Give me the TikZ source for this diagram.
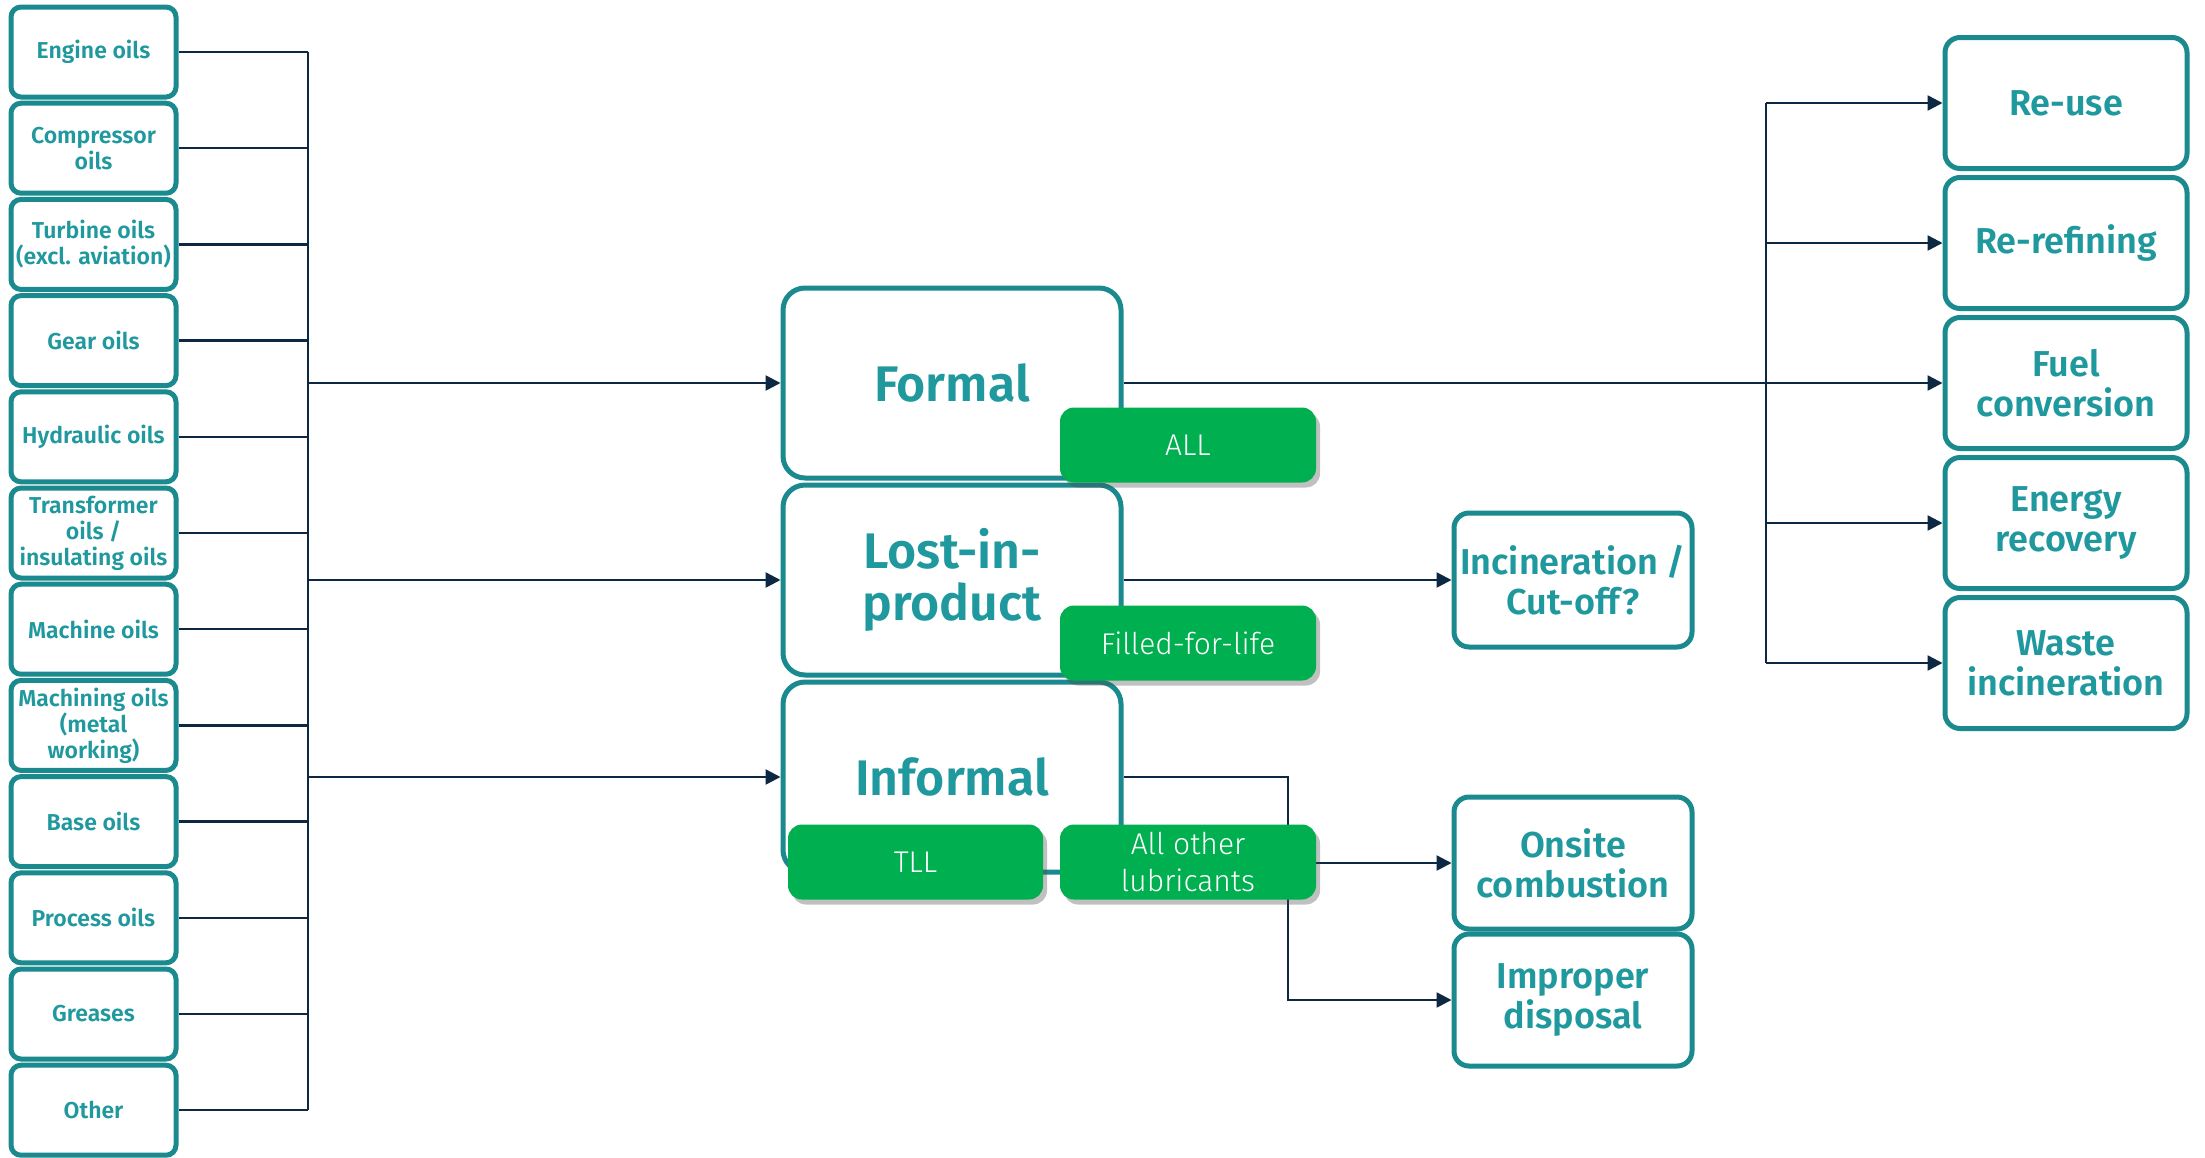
\documentclass[tikz,border=0pt]{standalone}
\usepackage{fontspec}
\usetikzlibrary{arrows.meta,shadows}
\newfontfamily\firabase{Fira Sans}
\IfFontExistsTF{Fira Sans SemiBold}{\newfontfamily\semibfam{Fira Sans SemiBold}\newcommand\semib{\semibfam}}{\newcommand\semib{\firabase\bfseries}}
\IfFontExistsTF{Fira Sans Light}{\newfontfamily\lightfam{Fira Sans Light}\newcommand\lightf{\lightfam}}{\newcommand\lightf{\firabase}}
\definecolor{bordc}{RGB}{27,138,143}
\definecolor{tealtxt}{RGB}{31,152,158}
\definecolor{greenc}{RGB}{0,176,80}
\definecolor{navy}{RGB}{12,40,66}
\begin{document}
\begin{tikzpicture}[x=1pt,y=-1pt,
  boxbase/.style={draw=bordc, line width=5pt, fill=white, text=tealtxt, align=center, inner sep=2pt},
  src/.style={boxbase, rounded corners=10pt, minimum width=165pt, minimum height=90pt, font=\semib\fontsize{23}{26}\selectfont},
  mid/.style={boxbase, rounded corners=22pt, minimum width=338pt, minimum height=190pt, font=\semib\fontsize{50}{52}\selectfont},
  dst/.style={boxbase, rounded corners=15pt, minimum width=242pt, minimum height=131pt, font=\semib\fontsize{36}{40}\selectfont},
  tag/.style={fill=greenc, text=white, rounded corners=14pt, minimum width=256pt, minimum height=75pt, inner sep=0pt, align=center, font=\lightf\fontsize{30}{37}\selectfont, drop shadow={shadow xshift=4pt, shadow yshift=-5pt, opacity=0.35, fill=black!70}},
  conn/.style={draw=navy, line width=2.5pt},
  arr/.style={conn, -{Triangle[length=15pt,width=15pt]}}
]
\useasboundingbox (0,0) rectangle (2205,1157);
\clip (0,0) rectangle (2205,1157);
\fill[white] (0,0) rectangle (2205,1157);

% source boxes
\node[src] (s1)  at (93.5,52)     {Engine oils};
\node[src] (s2)  at (93.5,148.2)  {Compressor\\oils};
\node[src] (s3)  at (93.5,244.4)  {Turbine oils\\(excl. aviation)};
\node[src] (s4)  at (93.5,340.6)  {Gear oils};
\node[src] (s5)  at (93.5,436.8)  {Hydraulic oils};
\node[src] (s6)  at (93.5,533)    {Transformer\\oils /\\insulating oils};
\node[src] (s7)  at (93.5,629.2)  {Machine oils};
\node[src] (s8)  at (93.5,725.4)  {Machining oils\\(metal\\working)};
\node[src] (s9)  at (93.5,821.6)  {Base oils};
\node[src] (s10) at (93.5,917.8)  {Process oils};
\node[src] (s11) at (93.5,1014)   {Greases};
\node[src] (s12) at (93.5,1110.2) {Other};

% middle boxes
\node[mid] (formal)   at (952,383) {Formal};
\node[mid] (lost)     at (952,580) {Lost-in-\\product};
\node[mid] (informal) at (952,777) {Informal};

% destinations
\node[dst] (reuse)  at (2066,103) {Re-use};
\node[dst] (rerefine) at (2066,243) {Re-refining};
\node[dst] (fuel)   at (2066,383) {Fuel\\conversion};
\node[dst] (energy) at (2066,523) {Energy\\recovery};
\node[dst] (waste)  at (2066,663) {Waste\\incineration};

\node[dst, minimum width=238pt, minimum height=134pt] (incin) at (1573,580) {Incineration /\\Cut-off?};
\node[dst, minimum width=238pt, minimum height=132pt] (onsite) at (1573,863) {Onsite\\combustion};
\node[dst, minimum width=238pt, minimum height=132pt] (improper) at (1573,1000) {Improper\\disposal};

% connectors left
\coordinate (lbus) at (308,0);
\foreach \i in {1,...,12}{
  \draw[conn] (s\i.east) -- (s\i.east -| lbus);
}
\draw[conn] (s1.east -| lbus) -- (s12.east -| lbus);
\draw[arr] (formal.west -| lbus) -- (formal.west);
\draw[arr] (lost.west -| lbus) -- (lost.west);
\draw[arr] (informal.west -| lbus) -- (informal.west);

% connectors right
\coordinate (rbus) at (1766,0);
\draw[arr] (formal.east) -- (fuel.west);
\draw[conn] (reuse.west -| rbus) -- (waste.west -| rbus);
\draw[arr] (reuse.west -| rbus) -- (reuse.west);
\draw[arr] (rerefine.west -| rbus) -- (rerefine.west);
\draw[arr] (energy.west -| rbus) -- (energy.west);
\draw[arr] (waste.west -| rbus) -- (waste.west);

\draw[arr] (lost.east) -- (incin.west);

\coordinate (ib) at (1288,0);
\draw[arr] (informal.east) -- (informal.east -| ib) -- (ib |- improper.west) -- (improper.west);
\draw[arr] (ib |- onsite.west) -- (onsite.west);

% tags
\node[tag] (tall)    at (1188,445) {ALL};
\node[tag] (tfill)   at (1188,643) {Filled-for-life};
\node[tag, minimum width=255pt] (ttll) at (915.5,862) {TLL};
\node[tag] (tother)  at (1188,862) {All other\\lubricants};
\end{tikzpicture}
\end{document}
